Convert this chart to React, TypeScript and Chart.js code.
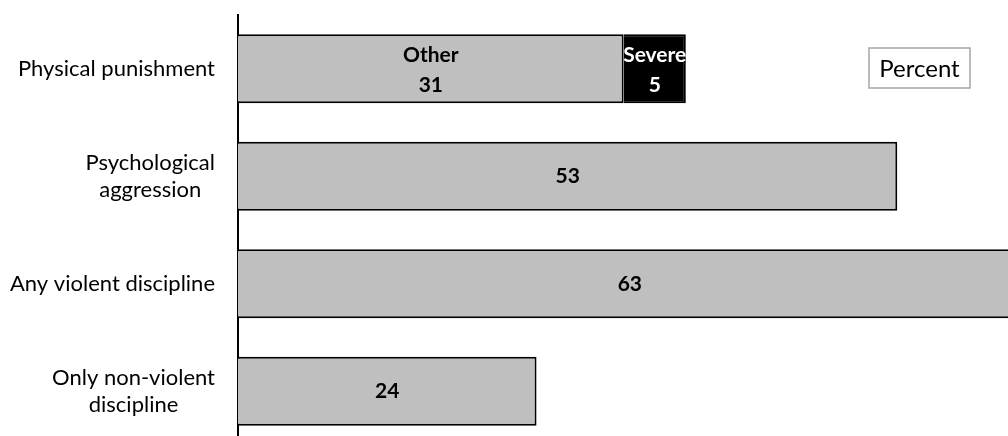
import React, { useEffect, useRef } from "react";
import { Chart, registerables } from "chart.js";

Chart.register(...registerables);

const categories: (string | string[])[] = [
  "Physical punishment",
  ["Psychological", "aggression"],
  "Any violent discipline",
  ["Only non-violent", "discipline"],
];
const seriesNames = ["Other", "Severe"];
const otherValues = [31, 53, 63, 24];
const severeValues: (number | null)[] = [5, null, null, null];
const unitLabel = "Percent";

const FONT = "Lato, 'Open Sans', sans-serif";
const TICK_SIZE = 22;
const TICK_LINE = 27.5;
const TICK_RIGHT = 215;

const labelPlugin = {
  id: "barLabels",
  afterDatasetsDraw(chart: any) {
    const ctx = chart.ctx;
    ctx.save();
    ctx.textAlign = "center";
    ctx.textBaseline = "middle";
    ctx.font = `bold 21px ${FONT}`;
    chart.data.datasets.forEach((ds: any, di: number) => {
      const meta = chart.getDatasetMeta(di);
      meta.data.forEach((el: any, i: number) => {
        const v = ds.data[i];
        if (v == null) return;
        const cx = (el.x + el.base) / 2;
        const cy = el.y;
        ctx.fillStyle = di === 1 ? "#ffffff" : "#000000";
        const multi = severeValues[i] != null;
        if (multi) {
          ctx.fillText(seriesNames[di], cx, cy - 14);
          ctx.fillText(String(v), cx, cy + 16);
        } else {
          ctx.fillText(String(v), cx, cy);
        }
      });
    });

    // category labels: block right-aligned, lines centred within block
    const yScale = chart.scales.y;
    ctx.font = `${TICK_SIZE}px ${FONT}`;
    ctx.fillStyle = "#000000";
    categories.forEach((lab, i) => {
      const lines = Array.isArray(lab) ? lab : [lab];
      const w = Math.max(...lines.map((l) => ctx.measureText(l).width));
      const cx = TICK_RIGHT - w / 2;
      const cy = yScale.getPixelForTick(i);
      lines.forEach((l, k) => {
        ctx.fillText(l, cx, cy + (k - (lines.length - 1) / 2) * TICK_LINE);
      });
    });

    // unit box
    ctx.font = `24px ${FONT}`;
    ctx.fillStyle = "#ffffff";
    ctx.strokeStyle = "#a6a6a6";
    ctx.lineWidth = 1.5;
    ctx.fillRect(869, 48, 101, 40);
    ctx.strokeRect(869, 48, 101, 40);
    ctx.fillStyle = "#000000";
    ctx.fillText(unitLabel, 919.5, 69);
    ctx.restore();
  },
};

export default function App() {
  const ref = useRef<HTMLCanvasElement>(null);
  useEffect(() => {
    if (!ref.current) return;
    const chart = new Chart(ref.current, {
      type: "bar",
      data: {
        labels: categories,
        datasets: [
          {
            label: seriesNames[0],
            data: otherValues,
            backgroundColor: "#bfbfbf",
            borderColor: "#000000",
            borderWidth: 2,
            barPercentage: 1,
            categoryPercentage: 0.64,
          },
          {
            label: seriesNames[1],
            data: severeValues,
            backgroundColor: "#000000",
            borderColor: "#000000",
            borderWidth: 2,
            barPercentage: 1,
            categoryPercentage: 0.64,
          },
        ],
      },
      options: {
        indexAxis: "y",
        responsive: false,
        animation: false,
        layout: { padding: { top: 15, bottom: 1, left: 0, right: 0 } },
        plugins: { legend: { display: false }, tooltip: { enabled: false } },
        scales: {
          x: {
            stacked: true,
            min: 0,
            max: 61.9,
            display: false,
          },
          y: {
            stacked: true,
            grid: { display: false, drawTicks: false },
            border: { display: true, color: "#000000", width: 2 },
            ticks: {
              color: "rgba(0,0,0,0)",
              padding: 23,
              font: { family: FONT, size: TICK_SIZE, lineHeight: 1.25 },
            },
            afterFit: (scale: any) => {
              scale.width = 238;
              scale.paddingTop = 0;
              scale.paddingBottom = 0;
            },
          },
        },
      },
      plugins: [labelPlugin],
    });
    return () => chart.destroy();
  }, []);
  return (
    <div
      style={{
        position: "fixed",
        left: 0,
        top: 0,
        width: 1008,
        height: 436,
        overflow: "hidden",
        background: "#fff",
      }}
    >
      <canvas ref={ref} width={1008} height={446} />
    </div>
  );
}
